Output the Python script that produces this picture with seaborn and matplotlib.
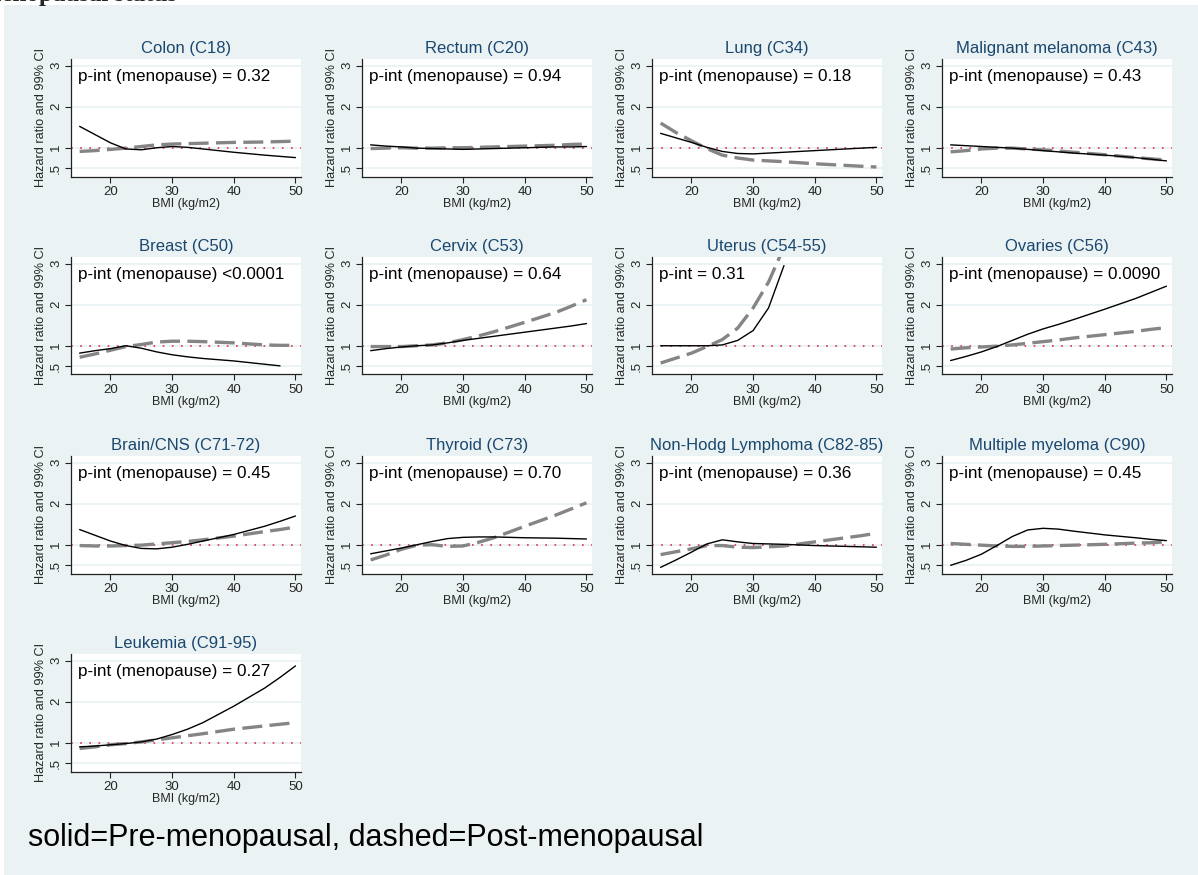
import numpy as np
import pandas as pd
import matplotlib
matplotlib.use("Agg")
import matplotlib.pyplot as plt
import seaborn as sns
from matplotlib.patches import Rectangle

nan = np.nan

# BMI grid (kg/m2)
bmi = [15, 17.5, 20, 22.5, 25, 27.5, 30, 32.5, 35, 40, 45, 47.5, 50]

titles = ["Colon (C18)", "Rectum (C20)", "Lung (C34)", "Malignant melanoma (C43)",
          "Breast (C50)", "Cervix (C53)", "Uterus (C54-55)", "Ovaries (C56)",
          "Brain/CNS (C71-72)", "Thyroid (C73)", "Non-Hodg Lymphoma (C82-85)",
          "Multiple myeloma (C90)", "Leukemia (C91-95)"]

pint = ["p-int (menopause) = 0.32", "p-int (menopause) = 0.94",
        "p-int (menopause) = 0.18", "p-int (menopause) = 0.43",
        "p-int (menopause) <0.0001", "p-int (menopause) = 0.64",
        "p-int = 0.31", "p-int (menopause) = 0.0090",
        "p-int (menopause) = 0.45", "p-int (menopause) = 0.70",
        "p-int (menopause) = 0.36", "p-int (menopause) = 0.45",
        "p-int (menopause) = 0.27"]

# Hazard ratios, pre-menopausal (solid)
colon_pre = [1.52, 1.32, 1.12, 0.97, 0.95, 1.00, 1.03, 1.01, 0.97, 0.89, 0.82, 0.79, 0.76]
rectum_pre = [1.07, 1.04, 1.02, 0.99, 0.98, 0.97, 0.96, 0.97, 0.98, 1.00, 1.02, 1.02, 1.03]
lung_pre = [1.35, 1.24, 1.13, 1.01, 0.91, 0.86, 0.85, 0.87, 0.89, 0.93, 0.97, 0.99, 1.01]
melanoma_pre = [1.07, 1.05, 1.03, 1.01, 0.99, 0.96, 0.93, 0.90, 0.87, 0.82, 0.76, 0.72, 0.68]
breast_pre = [0.82, 0.88, 0.93, 1.00, 0.94, 0.85, 0.78, 0.73, 0.69, 0.63, 0.55, 0.51, nan]
cervix_pre = [0.88, 0.93, 0.97, 1.00, 1.02, 1.07, 1.13, 1.18, 1.23, 1.33, 1.43, 1.48, 1.54]
uterus_pre = [1.00, 1.00, 1.00, 1.00, 1.02, 1.13, 1.37, 1.92, 2.95, nan, nan, nan, nan]
ovaries_pre = [0.64, 0.74, 0.85, 0.98, 1.13, 1.28, 1.41, 1.52, 1.64, 1.89, 2.15, 2.30, 2.45]
brain_pre = [1.37, 1.23, 1.09, 0.98, 0.91, 0.90, 0.94, 1.01, 1.09, 1.25, 1.45, 1.57, 1.70]
thyroid_pre = [0.78, 0.85, 0.92, 1.00, 1.08, 1.15, 1.18, 1.19, 1.19, 1.17, 1.16, 1.15, 1.14]
nhl_pre = [0.45, 0.63, 0.82, 1.02, 1.12, 1.07, 1.03, 1.02, 1.01, 0.98, 0.96, 0.95, 0.94]
myeloma_pre = [0.50, 0.62, 0.77, 0.98, 1.20, 1.36, 1.40, 1.38, 1.33, 1.24, 1.17, 1.13, 1.10]
leukemia_pre = [0.90, 0.92, 0.95, 0.98, 1.02, 1.09, 1.20, 1.33, 1.49, 1.89, 2.33, 2.59, 2.87]

# Hazard ratios, post-menopausal (dashed)
colon_post = [0.91, 0.93, 0.96, 0.99, 1.03, 1.07, 1.09, 1.10, 1.11, 1.13, 1.14, 1.15, 1.16]
rectum_post = [0.98, 0.99, 1.00, 0.99, 0.99, 1.00, 1.00, 1.01, 1.02, 1.04, 1.06, 1.08, 1.09]
lung_post = [1.60, 1.37, 1.17, 0.98, 0.82, 0.75, 0.70, 0.68, 0.66, 0.61, 0.57, 0.55, 0.53]
melanoma_post = [0.90, 0.93, 0.97, 0.99, 0.99, 0.97, 0.95, 0.92, 0.89, 0.83, 0.76, 0.73, 0.70]
breast_post = [0.72, 0.80, 0.89, 0.98, 1.03, 1.09, 1.11, 1.11, 1.10, 1.07, 1.02, 1.01, 1.01]
cervix_post = [0.98, 0.98, 0.98, 1.00, 1.02, 1.07, 1.15, 1.24, 1.34, 1.57, 1.81, 1.96, 2.12]
uterus_post = [0.58, 0.70, 0.82, 0.98, 1.15, 1.43, 1.92, 2.55, 3.40, nan, nan, nan, nan]
ovaries_post = [0.92, 0.95, 0.97, 0.99, 1.02, 1.06, 1.10, 1.14, 1.19, 1.27, 1.35, 1.40, 1.44]
brain_post = [0.98, 0.97, 0.97, 0.98, 0.99, 1.02, 1.05, 1.08, 1.12, 1.21, 1.32, 1.37, 1.43]
thyroid_post = [0.63, 0.75, 0.89, 0.99, 1.00, 0.96, 0.97, 1.06, 1.17, 1.45, 1.72, 1.87, 2.02]
nhl_post = [0.76, 0.83, 0.90, 0.98, 0.98, 0.94, 0.93, 0.95, 0.97, 1.07, 1.17, 1.22, 1.28]
myeloma_post = [1.03, 1.01, 0.99, 0.97, 0.96, 0.96, 0.97, 0.98, 0.99, 1.01, 1.04, 1.05, 1.07]
leukemia_post = [0.86, 0.90, 0.95, 0.98, 1.02, 1.07, 1.12, 1.17, 1.22, 1.33, 1.41, 1.45, 1.49]

pre_series = [colon_pre, rectum_pre, lung_pre, melanoma_pre, breast_pre, cervix_pre,
              uterus_pre, ovaries_pre, brain_pre, thyroid_pre, nhl_pre, myeloma_pre,
              leukemia_pre]
post_series = [colon_post, rectum_post, lung_post, melanoma_post, breast_post, cervix_post,
               uterus_post, ovaries_post, brain_post, thyroid_post, nhl_post, myeloma_post,
               leukemia_post]

yticks = [0.5, 1, 2, 3]
ytick_labels = [".5", "1", "2", "3"]
xticks = [20, 30, 40, 50]

sns.set_style("white")
plt.rcParams["font.family"] = ["Liberation Sans", "DejaVu Sans"]

W, H = 1198, 875
fig = plt.figure(figsize=(W / 100, H / 100), dpi=100)
fig.patch.set_facecolor("white")
BG = "#EAF2F3"
fig.add_artist(Rectangle((4 / W, 0), 1, 1 - 5 / H, transform=fig.transFigure,
                         facecolor=BG, edgecolor="none", zorder=0))

col_left = [71, 362, 652, 942]
row_top = [59, 257, 456, 654]
aw, ah = 230, 117.5

for i, (title, txt, pre, post) in enumerate(zip(titles, pint, pre_series, post_series)):
    r, c = divmod(i, 4)
    left = col_left[c] / W
    bottom = 1 - (row_top[r] + ah) / H
    ax = fig.add_axes([left, bottom, aw / W, ah / H])
    ax.set_facecolor("white")
    df = pd.DataFrame({"bmi": bmi, "pre": pre, "post": post})
    ax.axhline(1, color="#E0304A", linestyle=(0, (1, 4.5)), linewidth=1.2, zorder=1)
    sns.lineplot(data=df, x="bmi", y="post", ax=ax, color="#858585", linewidth=2.4,
                 linestyle=(0, (6, 2.2)), zorder=3)
    sns.lineplot(data=df, x="bmi", y="pre", ax=ax, color="black", linewidth=1.0, zorder=4)
    ax.set_xlim(13.6, 50.9)
    ax.set_ylim(0.3, 3.16)
    ax.set_yticks(yticks)
    ax.set_yticklabels(ytick_labels, rotation=90, va="center")
    ax.set_xticks(xticks)
    ax.yaxis.grid(True, color=BG, linewidth=1.3)
    ax.xaxis.grid(False)
    ax.set_axisbelow(True)
    for s in ["top", "right"]:
        ax.spines[s].set_visible(False)
    for s in ["left", "bottom"]:
        ax.spines[s].set_color("#222222")
        ax.spines[s].set_linewidth(0.9)
    ax.tick_params(axis="both", direction="out", length=4.5, width=0.8,
                   color="#222222", labelsize=9.5, pad=2, left=True, bottom=True)
    ax.set_xlabel("BMI (kg/m2)", fontsize=9, labelpad=0)
    ax.set_ylabel("Hazard ratio and 99% CI", fontsize=9.2, labelpad=2)
    ax.set_title(title, fontsize=12, color="#1A476F", pad=4)
    ax.text(0.03, 0.855, txt, transform=ax.transAxes, fontsize=12.3,
            va="center", ha="left", color="black")

fig.text(28 / W, 1 - 838 / H, "solid=Pre-menopausal, dashed=Post-menopausal",
         fontsize=22, va="center", ha="left", color="black")
fig.text(-52 / W, 1 - 1.5 / H, "by menopausal status", fontsize=18, fontweight="bold",
         family=["Liberation Serif", "DejaVu Serif"], va="baseline", ha="left")

fig.savefig("out.png", dpi=100)
